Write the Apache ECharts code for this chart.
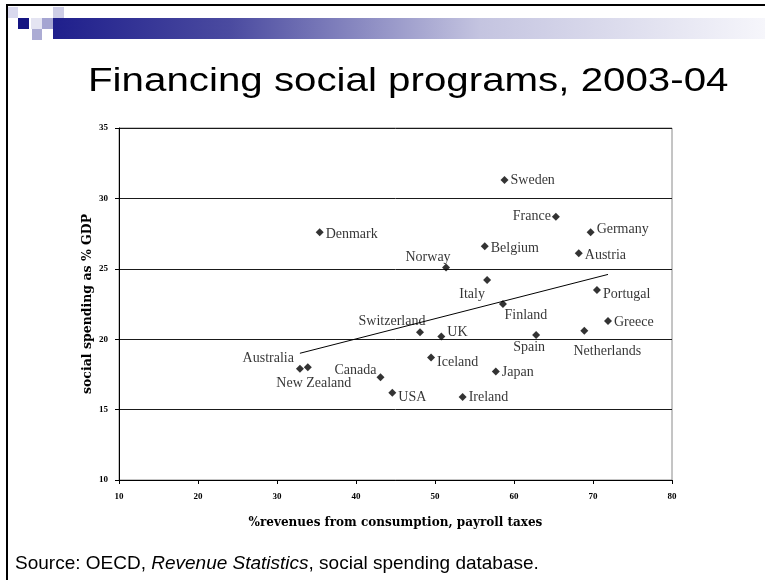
<!DOCTYPE html>
<html>
<head>
<meta charset="utf-8">
<script src="https://cdn.jsdelivr.net/npm/echarts@6/dist/echarts.min.js"></script>
<style>
  html, body { margin: 0; padding: 0; background: #ffffff; }
  #chart { width: 765px; height: 580px; }
</style>
</head>
<body>
<div id="chart"></div>
<script>
// Share of revenues from consumption and payroll taxes (%) vs social spending (% of GDP)
const countries = ['Sweden', 'France', 'Germany', 'Belgium', 'Austria', 'Norway', 'Italy', 'Portugal',
  'Finland', 'Denmark', 'Switzerland', 'UK', 'Spain', 'Netherlands', 'Greece', 'Iceland', 'Japan',
  'USA', 'Ireland', 'Australia', 'New Zealand', 'Canada'];
const revenueShare = [58.8, 65.3, 69.7, 56.3, 68.2, 51.4, 56.6, 70.5,
  58.6, 35.4, 48.1, 50.8, 62.8, 68.9, 71.9, 49.5, 57.7,
  44.6, 53.5, 32.9, 33.9, 43.1];
const socialSpending = [31.3, 28.7, 27.6, 26.6, 26.1, 25.1, 24.2, 23.5,
  22.5, 27.6, 20.5, 20.2, 20.3, 20.6, 21.3, 18.7, 17.7,
  16.2, 15.9, 17.9, 18.0, 17.3];

// Fitted trend line end points
const trendX = [32.9, 71.9];
const trendY = [19.0, 24.6];

// Axis tick values
const xTicks = [10, 20, 30, 40, 50, 60, 70, 80];
const yTicks = [10, 15, 20, 25, 30, 35];

// Where each country's name sits next to its marker: [position, dx, dy]
const labelLayout = {
  'Sweden': ['right', 0, 0],
  'France': ['left', 1, 0],
  'Germany': ['right', 0, -3],
  'Belgium': ['right', 0, 2],
  'Austria': ['right', 0, 2],
  'Norway': ['top', -18, 1],
  'Italy': ['bottom', -15, 3],
  'Portugal': ['right', 0, 4],
  'Finland': ['bottom', 23, 0],
  'Denmark': ['right', 0, 2],
  'Switzerland': ['top', -28, 0],
  'UK': ['right', 0, -4],
  'Spain': ['bottom', -7, 1],
  'Netherlands': ['bottom', 23, 10],
  'Greece': ['right', 0, 1],
  'Iceland': ['right', 0, 5],
  'Japan': ['right', 0, 1],
  'USA': ['right', 0, 5],
  'Ireland': ['right', 0, 0],
  'Australia': ['left', 0, -10],
  'New Zealand': ['bottom', 6, 5],
  'Canada': ['left', 2, -7]
};

const points = countries.map((name, i) => {
  const lay = labelLayout[name];
  return {
    name: name,
    value: [revenueShare[i], socialSpending[i]],
    label: {
      position: lay[0],
      offset: [lay[1], lay[2]],
      distance: (lay[0] === 'left' || lay[0] === 'right') ? 2 : 0
    }
  };
});

const trendData = trendX.map((x, i) => [x, trendY[i]]);

const serifLabel = 'Liberation Serif, Times New Roman, serif';
const axisNameFont = 'DejaVu Serif, serif';

const chart = echarts.init(document.getElementById('chart'), null, { renderer: 'canvas' });

chart.setOption({
  backgroundColor: '#ffffff',
  animation: false,
  grid: {
    left: 119, right: 93, top: 128, bottom: 100,
    show: true, borderColor: '#8a8a8a', borderWidth: 1, backgroundColor: 'transparent'
  },
  xAxis: {
    type: 'value',
    min: xTicks[0], max: xTicks[xTicks.length - 1], interval: xTicks[1] - xTicks[0],
    name: '%revenues from consumption, payroll taxes',
    nameLocation: 'middle', nameGap: 37,
    nameTextStyle: { fontFamily: axisNameFont, fontWeight: 'bold', fontSize: 12, color: '#000' },
    axisLine: { show: true, lineStyle: { color: '#000', width: 1 } },
    axisTick: { show: true, inside: false, length: 4, lineStyle: { color: '#000' } },
    axisLabel: { fontFamily: serifLabel, fontWeight: 'bold', fontSize: 9, color: '#000', margin: 12 },
    splitLine: { show: false }
  },
  yAxis: {
    type: 'value',
    min: yTicks[0], max: yTicks[yTicks.length - 1], interval: yTicks[1] - yTicks[0],
    name: 'social spending as % GDP',
    nameLocation: 'middle', nameGap: 25, nameRotate: 90, nameMoveOverlap: false,
    nameTextStyle: { fontFamily: axisNameFont, fontWeight: 'bold', fontSize: 12.5, color: '#000' },
    axisLine: { show: true, lineStyle: { color: '#000', width: 1 } },
    axisTick: { show: true, inside: false, length: 4, lineStyle: { color: '#000' } },
    axisLabel: { fontFamily: serifLabel, fontWeight: 'bold', fontSize: 9, color: '#000', margin: 11 },
    splitLine: { show: true, lineStyle: { color: '#1a1a1a', width: 1 } }
  },
  series: [
    {
      type: 'line',
      data: trendData,
      showSymbol: false,
      symbol: 'none',
      lineStyle: { color: '#000', width: 1 },
      z: 2,
      silent: true
    },
    {
      type: 'scatter',
      data: points,
      symbol: 'diamond',
      symbolSize: 8,
      itemStyle: { color: '#000' },
      label: {
        show: true,
        formatter: '{b}',
        fontFamily: serifLabel,
        fontSize: 14,
        color: '#000'
      },
      z: 3
    }
  ],
  graphic: [
    // slide frame
    { type: 'rect', shape: { x: 6, y: 4, width: 759, height: 2 }, style: { fill: '#000' } },
    { type: 'rect', shape: { x: 6, y: 4, width: 2, height: 576 }, style: { fill: '#000' } },
    // header bar fading to the right
    {
      type: 'rect', shape: { x: 53, y: 18, width: 712, height: 21 },
      style: {
        fill: {
          type: 'linear', x: 0, y: 0, x2: 1, y2: 0,
          colorStops: [
            { offset: 0, color: '#1f1f8c' },
            { offset: 0.25, color: '#4b4ba0' },
            { offset: 0.6, color: '#c4c4e0' },
            { offset: 1, color: '#f6f6fb' }
          ]
        }
      }
    },
    // header squares
    { type: 'rect', shape: { x: 8, y: 7, width: 10, height: 11 }, style: { fill: '#d9d9ee' } },
    { type: 'rect', shape: { x: 18, y: 18, width: 11, height: 11 }, style: { fill: '#141482' } },
    { type: 'rect', shape: { x: 31, y: 18, width: 11, height: 11 }, style: { fill: '#e4e4f2' } },
    { type: 'rect', shape: { x: 42, y: 18, width: 11, height: 11 }, style: { fill: '#a5a5d2' } },
    { type: 'rect', shape: { x: 53, y: 7, width: 11, height: 11 }, style: { fill: '#cdcde6' } },
    { type: 'rect', shape: { x: 32, y: 29, width: 10, height: 11 }, style: { fill: '#acacd4' } },
    // title
    {
      type: 'text', x: 88, y: 82, scaleX: 1.185, originX: 0,
      style: {
        text: 'Financing social programs, 2003-04',
        fontFamily: 'Liberation Sans, Arial, sans-serif', fontSize: 34,
        fill: '#000', verticalAlign: 'middle', align: 'left'
      }
    },
    // source note
    {
      type: 'text', x: 15, y: 564,
      style: {
        text: '{n|Source: OECD, }{i|Revenue Statistics}{n|, social spending database.}',
        verticalAlign: 'middle', align: 'left',
        rich: {
          n: { fontFamily: 'Liberation Sans, Arial, sans-serif', fontSize: 19, fill: '#000' },
          i: { fontFamily: 'Liberation Sans, Arial, sans-serif', fontSize: 19, fontStyle: 'italic', fill: '#000' }
        }
      }
    }
  ]
});
</script>
</body>
</html>
